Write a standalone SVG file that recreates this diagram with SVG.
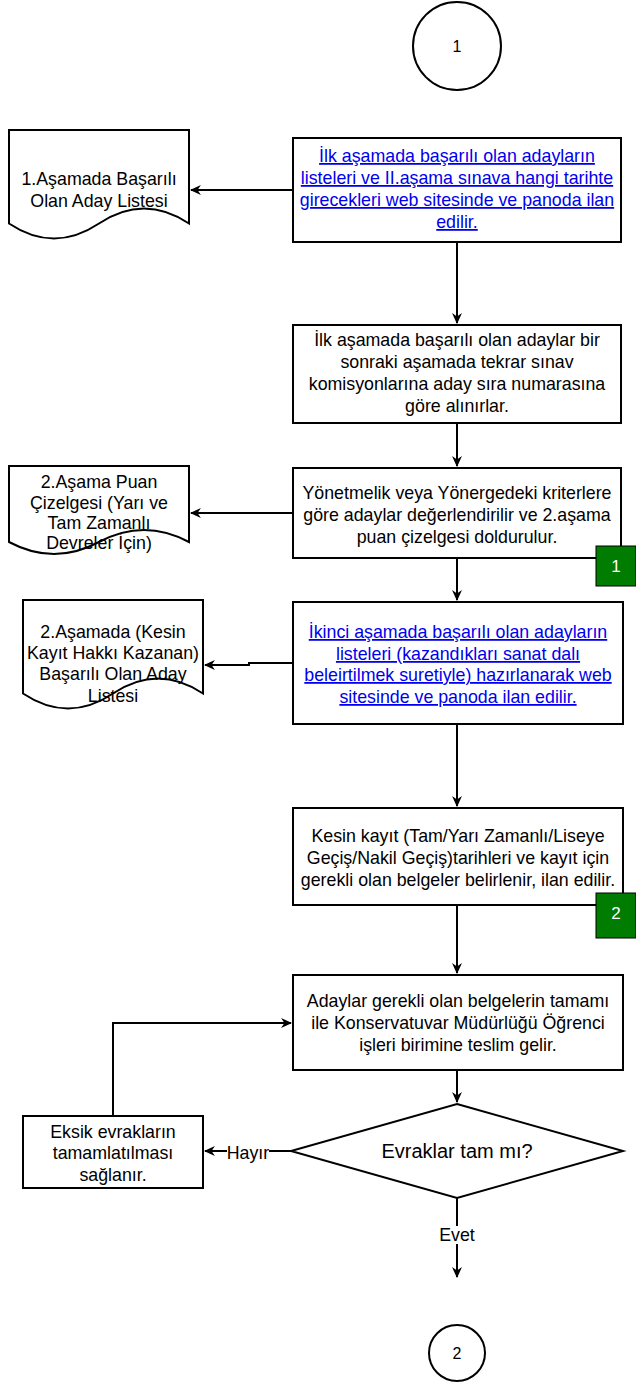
<svg xmlns="http://www.w3.org/2000/svg" width="636" height="1387" viewBox="0 0 636 1387">
<defs>
<style>
.s{fill:#fff;stroke:#000;stroke-width:2}
.t{font-family:"Liberation Sans",Arial,sans-serif;font-size:17.8px;fill:#000;text-anchor:middle}
.l{fill:#0000ee;text-decoration:underline}
.c{fill:none;stroke:#000;stroke-width:2}
.b{fill:#007c00;stroke:#000;stroke-width:1}
.bt{font-family:"Liberation Sans",Arial,sans-serif;font-size:17px;fill:#fff;text-anchor:middle}
</style>
<marker id="a" viewBox="0 0 10 10" refX="9" refY="5" markerWidth="11" markerHeight="11" orient="auto" markerUnits="userSpaceOnUse">
<path d="M0 0.5 L10 5 L0 9.5 L3 5 Z" fill="#000"/>
</marker>
</defs>
<g id="connectors">
<line class="c" x1="293" y1="190" x2="191" y2="190" marker-end="url(#a)"/>
<line class="c" x1="457" y1="242" x2="457" y2="323" marker-end="url(#a)"/>
<line class="c" x1="457" y1="423" x2="457" y2="466" marker-end="url(#a)"/>
<line class="c" x1="293" y1="513" x2="191" y2="513" marker-end="url(#a)"/>
<line class="c" x1="457" y1="558" x2="457" y2="600" marker-end="url(#a)"/>
<path class="c" d="M293 663 H249 V665 H205" marker-end="url(#a)"/>
<line class="c" x1="457" y1="724" x2="457" y2="806" marker-end="url(#a)"/>
<line class="c" x1="457" y1="905" x2="457" y2="973" marker-end="url(#a)"/>
<line class="c" x1="457" y1="1070" x2="457" y2="1102" marker-end="url(#a)"/>
<path class="c" d="M291 1151 H205" marker-end="url(#a)"/>
<path class="c" d="M113 1116 V1023 H291" marker-end="url(#a)"/>
<path class="c" d="M457 1198 V1277" marker-end="url(#a)"/>
<rect x="227" y="1142" width="42" height="18" fill="#fff"/>
<text class="t" x="248" y="1159">Hayır</text>
<rect x="438" y="1226" width="38" height="18" fill="#fff"/>
<text class="t" x="457" y="1241">Evet</text>
</g>
<g id="start1">
<circle class="s" cx="457" cy="46" r="44"/>
<text class="t" x="457" y="52" style="font-size:16px">1</text>
</g>
<g id="box1">
<rect class="s" x="293" y="138" width="328" height="104"/>
<text class="t l" x="457" y="162">İlk aşamada başarılı olan adayların</text>
<text class="t l" x="457" y="184">listeleri ve II.aşama sınava hangi tarihte</text>
<text class="t l" x="457" y="206">girecekleri web sitesinde ve panoda ilan</text>
<text class="t l" x="457" y="228">edilir.</text>
</g>
<g id="doc1">
<path class="s" d="M9 130 H189 V223.5 Q144 193.5 99 223.5 Q54 253.5 9 223.5 Z"/>
<text class="t" x="99" y="185">1.Aşamada Başarılı</text>
<text class="t" x="99" y="207">Olan Aday Listesi</text>
</g>
<g id="box2">
<rect class="s" x="293" y="325" width="328" height="98"/>
<text class="t" x="457" y="346">İlk aşamada başarılı olan adaylar bir</text>
<text class="t" x="457" y="368">sonraki aşamada tekrar sınav</text>
<text class="t" x="457" y="390">komisyonlarına aday sıra numarasına</text>
<text class="t" x="457" y="412">göre alınırlar.</text>
</g>
<g id="box3">
<rect class="s" x="293" y="468" width="328" height="90"/>
<text class="t" x="457" y="499">Yönetmelik veya Yönergedeki kriterlere</text>
<text class="t" x="457" y="521">göre adaylar değerlendirilir ve 2.aşama</text>
<text class="t" x="457" y="543">puan çizelgesi doldurulur.</text>
</g>
<g id="doc2">
<path class="s" d="M9 466 H189 V542 Q144 518 99 542 Q54 566 9 542 Z"/>
<text class="t" x="99" y="488">2.Aşama Puan</text>
<text class="t" x="99" y="509">Çizelgesi (Yarı ve</text>
<text class="t" x="99" y="529">Tam Zamanlı</text>
<text class="t" x="99" y="549">Devreler İçin)</text>
</g>
<g id="badge1">
<rect class="b" x="596" y="546" width="40" height="40"/>
<text class="bt" x="616" y="572">1</text>
</g>
<g id="box4">
<rect class="s" x="293" y="602" width="330" height="122"/>
<text class="t l" x="458" y="638">İkinci aşamada başarılı olan adayların</text>
<text class="t l" x="458" y="660">listeleri (kazandıkları sanat dalı</text>
<text class="t l" x="458" y="681">beleirtilmek suretiyle) hazırlanarak web</text>
<text class="t l" x="458" y="703">sitesinde ve panoda ilan edilir.</text>
</g>
<g id="doc3">
<path class="s" d="M23 600 H203 V693.5 Q158 663.5 113 693.5 Q68 723.5 23 693.5 Z"/>
<text class="t" x="113" y="638">2.Aşamada (Kesin</text>
<text class="t" x="113" y="659">Kayıt Hakkı Kazanan)</text>
<text class="t" x="113" y="680">Başarılı Olan Aday</text>
<text class="t" x="113" y="702">Listesi</text>
</g>
<g id="box5">
<rect class="s" x="293" y="808" width="330" height="97"/>
<text class="t" x="458" y="842">Kesin kayıt (Tam/Yarı Zamanlı/Liseye</text>
<text class="t" x="458" y="864">Geçiş/Nakil Geçiş)tarihleri ve kayıt için</text>
<text class="t" x="458" y="886">gerekli olan belgeler belirlenir, ilan edilir.</text>
</g>
<g id="badge2">
<rect class="b" x="596" y="893" width="40" height="45"/>
<text class="bt" x="616" y="919">2</text>
</g>
<g id="box6">
<rect class="s" x="293" y="975" width="330" height="95"/>
<text class="t" x="458" y="1007">Adaylar gerekli olan belgelerin tamamı</text>
<text class="t" x="458" y="1029">ile Konservatuvar Müdürlüğü Öğrenci</text>
<text class="t" x="458" y="1051">işleri birimine teslim gelir.</text>
</g>
<g id="decision">
<path class="s" d="M457 1104 L623 1151 L457 1198 L291 1151 Z"/>
<text class="t" x="457" y="1158" style="font-size:20px">Evraklar tam mı?</text>
</g>
<g id="eksik">
<rect class="s" x="23" y="1116" width="180" height="72"/>
<text class="t" x="113" y="1138">Eksik evrakların</text>
<text class="t" x="113" y="1159">tamamlatılması</text>
<text class="t" x="113" y="1181">sağlanır.</text>
</g>
<g id="end2">
<circle class="s" cx="457" cy="1353" r="28"/>
<text class="t" x="457" y="1359" style="font-size:16px">2</text>
</g>
</svg>
